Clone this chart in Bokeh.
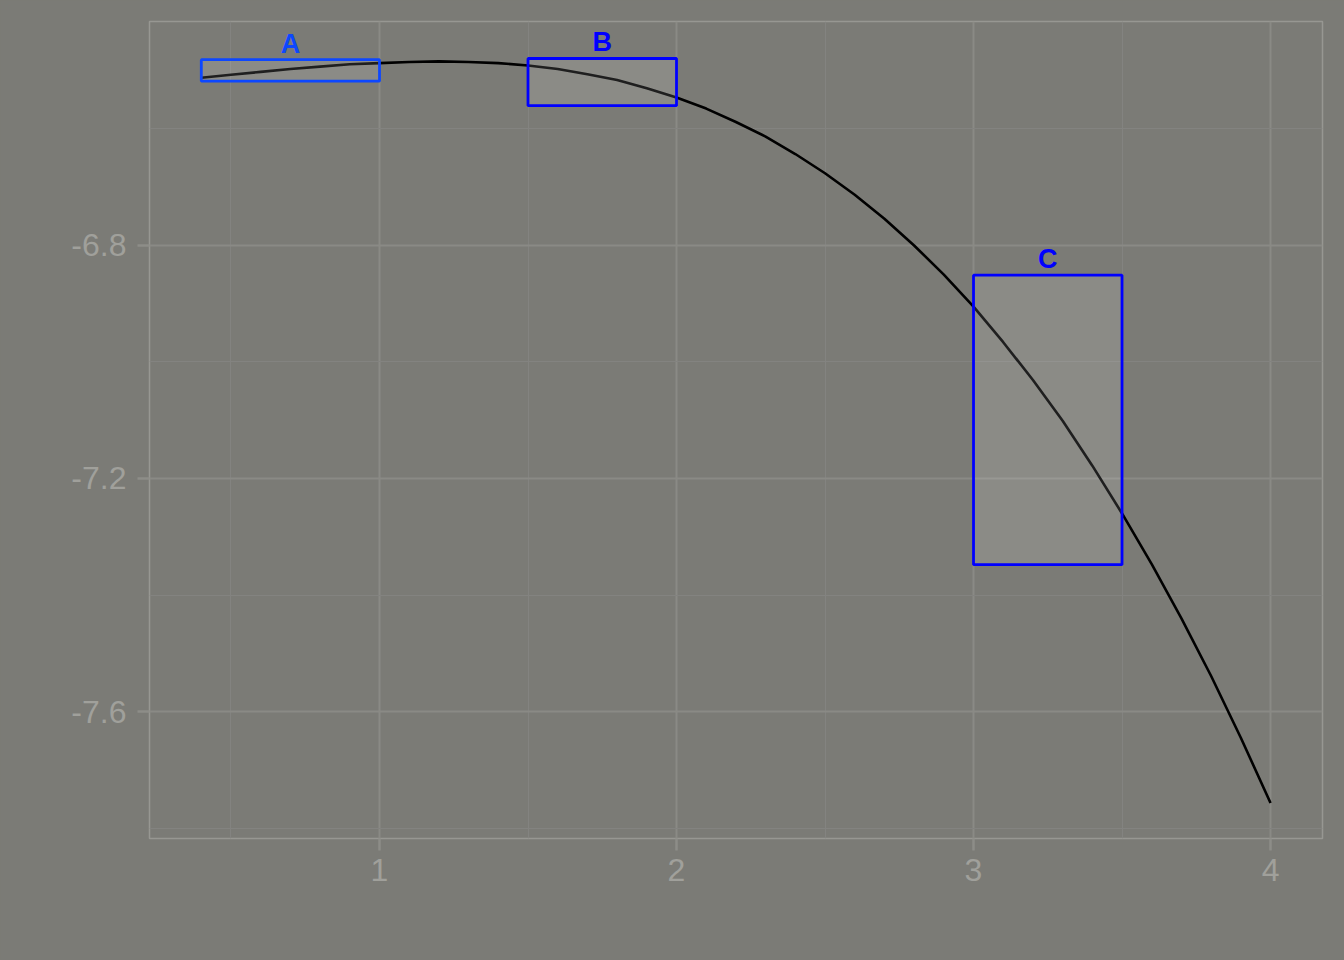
from bokeh.plotting import figure
from bokeh.models import FixedTicker, ColumnDataSource, Range1d
from bokeh.core.properties import value
from bokeh.embed import file_html
from bokeh.resources import INLINE

# curve values
curve_x = [0.4, 0.5, 0.6, 0.7, 0.8, 0.9, 1.0, 1.1, 1.2, 1.3, 1.4, 1.5, 1.6, 1.7, 1.8, 1.9,
           2.0, 2.1, 2.2, 2.3, 2.4, 2.5, 2.6, 2.7, 2.8, 2.9, 3.0, 3.1, 3.2, 3.3, 3.4, 3.5,
           3.6, 3.7, 3.8, 3.9, 4.0]
curve_y = [-6.512, -6.507, -6.502, -6.497, -6.493, -6.489, -6.487, -6.485, -6.484, -6.485,
           -6.487, -6.491, -6.497, -6.506, -6.516, -6.530, -6.546, -6.565, -6.588, -6.613,
           -6.643, -6.676, -6.713, -6.754, -6.800, -6.850, -6.905, -6.966, -7.031, -7.101,
           -7.178, -7.260, -7.347, -7.440, -7.539, -7.645, -7.757]

# highlighted regions
box_labels = ["A", "B", "C"]
box_xmin = [0.4, 1.5, 3.0]
box_xmax = [1.0, 2.0, 3.5]
box_ymin = [-6.518, -6.560, -7.348]
box_ymax = [-6.481, -6.479, -6.851]
box_colors = ["#0d47ff", "#0000ff", "#0000ff"]

x_ticks = [1, 2, 3, 4]
x_minor = [0.5, 1.5, 2.5, 3.5]
y_ticks = [-7.6, -7.2, -6.8]
y_tick_labels = ["-7.6", "-7.2", "-6.8"]
y_minor = [-7.8, -7.4, -7.0, -6.6]

BG = "#7b7b76"

p = figure(width=1344, height=960, output_backend="svg", toolbar_location=None,
           x_range=Range1d(0.2256, 4.175), y_range=Range1d(-7.818, -6.4155),
           min_border_left=149, min_border_right=22, min_border_top=21, min_border_bottom=122)
p.background_fill_color = BG
p.border_fill_color = BG
p.outline_line_color = "#979792"
p.outline_line_width = 1.5

p.xaxis.ticker = FixedTicker(ticks=x_ticks, minor_ticks=x_minor)
p.yaxis.ticker = FixedTicker(ticks=y_ticks, minor_ticks=y_minor)
p.yaxis.major_label_overrides = {t: s for t, s in zip(y_ticks, y_tick_labels)}
for ax in (p.xaxis, p.yaxis):
    ax.axis_line_color = None
    ax.major_tick_line_color = "#8d8d88"
    ax.major_tick_line_width = 2.5
    ax.major_tick_out = 12
    ax.major_tick_in = 0
    ax.minor_tick_line_color = None
    ax.major_label_text_color = "#a0a09b"
    ax.major_label_text_font = "Liberation Sans"
    ax.major_label_text_font_size = "32px"
p.xaxis.major_label_standoff = 8
p.yaxis.major_label_standoff = 11

for g in (p.xgrid, p.ygrid):
    g.grid_line_color = "#8a8a85"
    g.grid_line_width = 2
    g.minor_grid_line_color = "#838380"
    g.minor_grid_line_width = 1

p.line(curve_x, curve_y, line_color="black", line_width=2.6)

src = ColumnDataSource(dict(label=box_labels, left=box_xmin, right=box_xmax,
                            bottom=box_ymin, top=box_ymax, color=box_colors,
                            cx=[(a + b) / 2 for a, b in zip(box_xmin, box_xmax)]))
p.quad(left="left", right="right", bottom="bottom", top="top", source=src,
       fill_color="white", fill_alpha=0.12, line_color="color", line_width=2.8)
p.text(x="cx", y="top", text="label", source=src, text_color="color",
       text_align="center", text_baseline="alphabetic", y_offset=-16,
       text_font=value("Liberation Sans"), text_font_style="bold", text_font_size="27px")

html = file_html(p, INLINE)
html = html.replace("<head>", "<head><style>html,body{background:%s;}</style>" % BG, 1)
open("out.html", "w").write(html)
